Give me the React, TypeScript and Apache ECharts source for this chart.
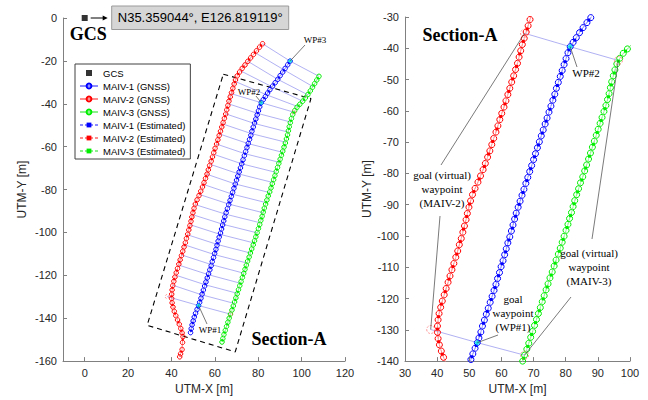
import React, { useEffect, useRef } from 'react';
import * as echarts from 'echarts';

// ---------- data (UTM metres, relative to GCS) ----------
const gcs = [[0, 0]];

const redGnss = [
  [82.0, -12.0], [80.6, -13.6], [79.2, -15.3], [77.8, -17.0], [76.5, -18.6], [75.2, -20.2], [73.9, -21.9], [72.6, -23.5],
  [71.4, -25.2], [70.3, -27.0], [69.5, -28.9], [68.9, -30.8], [68.3, -32.8], [67.7, -34.8], [67.1, -36.8], [66.5, -38.8],
  [66.0, -40.8], [65.5, -42.8], [65.0, -44.8], [64.4, -46.8], [63.8, -48.8], [63.2, -50.8], [62.6, -52.8], [62.0, -54.8],
  [61.4, -56.8], [60.8, -58.8], [60.1, -60.8], [59.5, -62.8], [58.9, -64.8], [58.3, -66.8], [57.6, -68.8], [57.0, -70.8],
  [56.4, -72.8], [55.7, -74.8], [55.0, -76.8], [54.3, -78.8], [53.5, -80.8], [52.7, -82.8], [51.8, -84.8], [51.0, -86.8],
  [50.4, -88.8], [49.9, -90.8], [49.4, -92.8], [49.0, -94.8], [48.5, -96.8], [48.0, -98.8], [47.5, -100.8], [46.9, -102.8],
  [46.4, -104.8], [45.8, -106.8], [45.2, -108.8], [44.6, -110.8], [44.0, -112.8], [43.4, -114.8], [42.8, -116.8], [42.2, -118.8],
  [41.6, -120.8], [41.1, -122.8], [40.6, -124.8], [40.3, -126.8], [40.1, -128.8], [40.1, -130.8], [40.3, -132.8], [40.7, -134.8],
  [41.3, -136.8], [42.0, -138.8], [42.8, -140.8], [43.6, -142.8], [44.3, -144.8], [44.9, -146.8], [45.3, -148.6], [45.1, -151.3],
  [44.9, -154.6], [44.2, -156.6], [43.8, -158.0],
];
const blueGnss = [
  [94.7, -20.1], [93.6, -21.8], [92.4, -23.5], [91.3, -25.2], [90.1, -26.9], [89.0, -28.6], [87.8, -30.2], [86.6, -31.8],
  [85.4, -33.4], [84.3, -35.0], [83.3, -36.6], [82.3, -38.1], [81.4, -39.5], [80.7, -41.4], [80.1, -43.3], [79.5, -45.2],
  [78.9, -47.1], [78.3, -49.0], [77.7, -50.9], [77.1, -52.8], [76.6, -54.7], [76.0, -56.6], [75.4, -58.5], [74.8, -60.4],
  [74.2, -62.3], [73.6, -64.2], [73.0, -66.1], [72.4, -68.0], [71.8, -69.9], [71.2, -71.8], [70.6, -73.7], [70.0, -75.6],
  [69.4, -77.5], [68.8, -79.4], [68.2, -81.3], [67.6, -83.2], [67.0, -85.1], [66.4, -87.0], [65.8, -88.9], [65.2, -90.8],
  [64.6, -92.7], [64.1, -94.6], [63.6, -96.5], [63.1, -98.4], [62.6, -100.3], [62.0, -102.2], [61.5, -104.1], [61.0, -106.0],
  [60.5, -107.9], [59.9, -109.8], [59.4, -111.7], [58.8, -113.6], [58.3, -115.5], [57.7, -117.4], [57.1, -119.3], [56.5, -121.2],
  [55.9, -123.1], [55.3, -125.0], [54.7, -126.9], [54.1, -128.8], [53.6, -130.7], [53.0, -132.6], [52.5, -134.1], [51.8, -135.9],
  [51.1, -137.7], [50.5, -139.5], [50.0, -141.3], [49.5, -143.1], [49.1, -144.9], [48.8, -146.7],
];
const greenGnss = [
  [108.0, -27.2], [107.0, -28.9], [106.0, -30.6], [105.0, -32.3], [104.0, -34.0], [102.9, -35.7], [101.7, -37.3], [100.5, -38.8],
  [99.2, -40.2], [97.9, -41.6], [96.8, -43.2], [95.9, -45.0], [95.3, -46.9], [94.8, -48.8], [94.3, -50.7], [93.9, -52.6],
  [93.5, -54.5], [93.0, -56.4], [92.5, -58.3], [91.9, -60.2], [91.3, -62.1], [90.7, -64.0], [90.1, -65.9], [89.5, -67.8],
  [88.9, -69.7], [88.3, -71.6], [87.7, -73.5], [87.1, -75.4], [86.5, -77.3], [85.9, -79.2], [85.3, -81.1], [84.6, -83.0],
  [84.0, -84.9], [83.4, -86.8], [82.8, -88.7], [82.3, -90.6], [81.8, -92.5], [81.2, -94.4], [80.7, -96.3], [80.1, -98.2],
  [79.5, -100.1], [78.9, -102.0], [78.3, -103.9], [77.7, -105.8], [77.0, -107.7], [76.4, -109.6], [75.8, -111.5], [75.1, -113.4],
  [74.5, -115.3], [73.9, -117.2], [73.3, -119.1], [72.7, -121.0], [72.1, -122.9], [71.5, -124.8], [70.9, -126.7], [70.3, -128.6],
  [69.7, -130.5], [69.1, -132.4], [68.5, -134.3], [67.9, -136.2], [67.2, -138.1], [66.6, -140.0], [66.0, -141.9], [65.4, -143.8],
  [64.8, -145.7], [64.2, -147.6], [63.7, -149.5], [63.3, -151.1],
];

const redEst = [
  [81.3, -12.8], [78.5, -16.2], [75.8, -19.4], [73.2, -22.7], [70.8, -26.1], [69.2, -29.8], [68.0, -33.8], [66.8, -37.8],
  [65.7, -41.8], [64.7, -45.8], [63.5, -49.8], [62.3, -53.8], [61.1, -57.8], [59.8, -61.8], [58.6, -65.8], [57.3, -69.8],
  [56.0, -73.8], [54.7, -77.8], [53.1, -81.8], [51.4, -85.8], [50.1, -89.8], [49.2, -93.8], [48.2, -97.8], [47.2, -101.8],
  [46.1, -105.8], [44.9, -109.8], [43.7, -113.8], [42.5, -117.8], [41.3, -121.8], [40.4, -125.8], [40.1, -129.8], [40.5, -133.8],
  [41.6, -137.8], [43.2, -141.8], [44.6, -145.8], [45.2, -150.0], [44.6, -155.6],
];
const blueEst = [
  [94.1, -21.0], [91.8, -24.4], [89.5, -27.8], [87.2, -31.0], [84.8, -34.2], [82.8, -37.4], [81.0, -40.5], [79.8, -44.3],
  [78.6, -48.1], [77.4, -51.9], [76.3, -55.7], [75.1, -59.5], [73.9, -63.3], [72.7, -67.1], [71.5, -70.9], [70.3, -74.7],
  [69.1, -78.5], [67.9, -82.3], [66.7, -86.1], [65.5, -89.9], [64.4, -93.7], [63.4, -97.5], [62.3, -101.3], [61.3, -105.1],
  [60.2, -108.9], [59.1, -112.7], [58.0, -116.5], [56.8, -120.3], [55.6, -124.1], [54.4, -127.9], [53.3, -131.7], [52.2, -135.0],
  [50.8, -138.6], [49.8, -142.2], [49.0, -145.8],
];
const greenEst = [
  [107.5, -28.1], [105.5, -31.5], [103.5, -34.9], [101.1, -38.1], [98.6, -40.9], [96.4, -44.1], [95.1, -47.9], [94.1, -51.7],
  [93.3, -55.5], [92.2, -59.3], [91.0, -63.1], [89.8, -66.9], [88.6, -70.7], [87.4, -74.5], [86.2, -78.3], [85.0, -82.1],
  [83.7, -85.9], [82.6, -89.7], [81.5, -93.5], [80.4, -97.3], [79.2, -101.1], [78.0, -104.9], [76.7, -108.7], [75.5, -112.5],
  [74.2, -116.3], [73.0, -120.1], [71.8, -123.9], [70.6, -127.7], [69.4, -131.5], [68.2, -135.3], [66.9, -139.1], [65.7, -142.9],
  [64.5, -146.7], [63.5, -150.3],
];

// waypoints WP#1, WP#2, WP#3
const waypoints = [[52.5, -134.1], [81.4, -39.5], [94.7, -20.1]];
// virtual goal waypoints: MAIV-2 top, MAIV-2 bottom, MAIV-3 top, MAIV-3 bottom
const goalPoints = [[67.2, -35.2], [38.0, -129.9], [96.4, -43.9], [67.2, -138.1]];

// formation links (same instant) red -> blue -> green
const linkRed = [
  [82.0, -12.0], [78.6, -16.2], [75.2, -20.2], [71.8, -24.6], [69.4, -29.6], [67.2, -35.2], [66.2, -40.0], [65.0, -44.7],
  [63.6, -49.4], [62.2, -54.1], [60.8, -58.8], [59.3, -63.5], [57.8, -68.2], [56.4, -72.9], [54.7, -77.6], [52.9, -82.3],
  [50.9, -87.0], [49.7, -91.7], [48.6, -96.4], [47.4, -101.1], [46.1, -105.8], [44.7, -110.5], [43.3, -115.2], [41.9, -119.9],
  [40.6, -124.6], [38.0, -129.9],
];
const linkBlue = [
  [94.7, -20.1], [91.9, -24.2], [89.0, -28.6], [86.4, -32.1], [83.8, -35.8], [81.4, -39.5], [79.8, -44.5], [78.3, -49.2],
  [76.8, -53.9], [75.4, -58.6], [73.9, -63.3], [72.4, -68.0], [70.9, -72.7], [69.4, -77.4], [67.9, -82.1], [66.5, -86.8],
  [65.0, -91.5], [63.7, -96.2], [62.4, -100.9], [61.1, -105.6], [59.7, -110.3], [58.4, -115.0], [57.0, -119.7], [55.5, -124.4],
  [54.0, -129.1], [52.5, -134.1],
];
const linkGreen = [
  [108.0, -27.2], [105.2, -32.0], [103.0, -35.9], [100.5, -38.8], [98.2, -41.3], [96.4, -43.9], [94.9, -48.5], [93.7, -53.2],
  [92.6, -57.9], [91.1, -62.6], [89.7, -67.3], [88.2, -72.0], [86.7, -76.7], [85.2, -81.4], [83.6, -86.1], [82.2, -90.8],
  [80.9, -95.5], [79.5, -100.2], [78.0, -104.9], [76.4, -109.6], [74.9, -114.3], [73.3, -119.0], [71.8, -123.7], [70.4, -128.4],
  [68.9, -133.1], [67.2, -138.1],
];
const sectionLinkIdx = [5, 25];

const sectionBox = [[63.9, -26.2], [104.3, -37.6], [69.4, -155.7], [28.8, -143.3], [63.9, -26.2]];

const leftXTicks = [0, 20, 40, 60, 80, 100, 120];

const legendNames = [
  'GCS', 'MAIV-1 (GNSS)', 'MAIV-2 (GNSS)', 'MAIV-3 (GNSS)',
  'MAIV-1 (Estimated)', 'MAIV-2 (Estimated)', 'MAIV-3 (Estimated)',
];

// ---------- styling ----------
const SANS = 'Arial, "Liberation Sans", sans-serif';
const SERIF = '"Liberation Serif", "Times New Roman", serif';
const AXIS_COLOR = '#808080';
const LABEL_COLOR = '#262626';

const vehicles = [
  { name: 'MAIV-1', gnss: blueGnss, est: blueEst, color: '#0000ff', light: '#8c8cff' },
  { name: 'MAIV-2', gnss: redGnss, est: redEst, color: '#ff0000', light: '#ff8c8c' },
  { name: 'MAIV-3', gnss: greenGnss, est: greenEst, color: '#00ee00', light: '#8cf08c' },
];

function axisCommon(gridIndex: number) {
  return {
    gridIndex,
    type: 'value',
    axisLine: { show: true, onZero: false, lineStyle: { color: AXIS_COLOR, width: 1 } },
    axisTick: { show: true, inside: true, length: 4, lineStyle: { color: AXIS_COLOR } },
    splitLine: { show: false },
    axisLabel: { color: LABEL_COLOR, fontSize: 11, margin: 6, fontFamily: SANS },
    nameLocation: 'middle',
    nameTextStyle: { color: LABEL_COLOR, fontSize: 12, fontFamily: SANS },
  };
}

function buildOption() {
  const series: any[] = [];
  [0, 1].forEach((gi) => {
    const idx = gi === 0 ? linkRed.map((_, i) => i) : sectionLinkIdx;
    series.push({
      type: 'lines',
      coordinateSystem: 'cartesian2d',
      xAxisIndex: gi,
      yAxisIndex: gi,
      polyline: true,
      silent: true,
      z: 1,
      lineStyle: { color: '#9d9df0', width: 0.8, opacity: 1 },
      data: idx.map((i) => ({ coords: [linkRed[i], linkBlue[i], linkGreen[i]] })),
    });
    if (gi === 0) {
      series.push({
        type: 'line',
        xAxisIndex: 0,
        yAxisIndex: 0,
        data: sectionBox,
        symbol: 'none',
        silent: true,
        z: 1,
        lineStyle: { color: '#000', width: 1.1, type: [5, 4] },
      });
      series.push({
        type: 'scatter',
        name: 'GCS',
        xAxisIndex: 0,
        yAxisIndex: 0,
        data: gcs,
        symbol: 'rect',
        symbolSize: 6,
        itemStyle: { color: '#000' },
        silent: true,
        clip: false,
      });
    }
    vehicles.forEach((v) => {
      series.push({
        type: 'line',
        name: `${v.name} (GNSS)`,
        xAxisIndex: gi,
        yAxisIndex: gi,
        data: v.gnss,
        symbol: 'circle',
        symbolSize: gi === 0 ? 4.5 : 6,
        showAllSymbol: true,
        silent: true,
        z: 3,
        itemStyle: { color: 'rgba(255,255,255,0)', borderColor: v.color, borderWidth: 1 },
        lineStyle: { color: v.light, width: 0.8 },
      });
    });
    vehicles.forEach((v) => {
      series.push({
        type: 'line',
        name: `${v.name} (Estimated)`,
        xAxisIndex: gi,
        yAxisIndex: gi,
        data: v.est,
        symbol: 'rect',
        symbolSize: gi === 0 ? 2 : 3,
        showAllSymbol: true,
        silent: true,
        z: 4,
        itemStyle: { color: v.color },
        lineStyle: { color: v.light, width: 0.8, type: [3, 2] },
      });
    });
    series.push({
      type: 'scatter',
      xAxisIndex: gi,
      yAxisIndex: gi,
      data: goalPoints,
      symbol: 'circle',
      symbolSize: gi === 0 ? 4 : 8,
      silent: true,
      z: 5,
      itemStyle: { color: 'rgba(255,255,255,0)', borderColor: '#ff5050', borderWidth: 0.8, borderType: [2, 1.5] },
    });
    series.push({
      type: 'scatter',
      xAxisIndex: gi,
      yAxisIndex: gi,
      data: waypoints,
      symbol: 'diamond',
      symbolSize: gi === 0 ? 5 : 6,
      silent: true,
      z: 6,
      itemStyle: { color: '#00e5e5' },
    });
  });

  const legendData = legendNames.map((n) =>
    n === 'GCS' ? { name: n, icon: 'path://M0,0H10V10H0Z' } : { name: n },
  );

  return {
    animation: false,
    backgroundColor: '#ffffff',
    textStyle: { fontFamily: SANS },
    grid: [
      { left: 63, top: 18, width: 282, height: 348 },
      { left: 405, top: 17, width: 225, height: 350 },
    ],
    xAxis: [
      {
        ...axisCommon(0),
        min: -10,
        max: 120,
        name: 'UTM-X [m]',
        nameGap: 18,
        axisTick: { show: true, inside: true, length: 4, lineStyle: { color: AXIS_COLOR }, customValues: leftXTicks },
        axisLabel: { color: LABEL_COLOR, fontSize: 11, margin: 6, fontFamily: SANS, customValues: leftXTicks },
      },
      { ...axisCommon(1), min: 30, max: 100, interval: 10, name: 'UTM-X [m]', nameGap: 18 },
    ],
    yAxis: [
      { ...axisCommon(0), min: -160, max: 0, interval: 20, name: 'UTM-Y [m]', nameGap: 35 },
      { ...axisCommon(1), min: -140, max: -30, interval: 10, name: 'UTM-Y [m]', nameGap: 26 },
    ],
    legend: {
      orient: 'vertical',
      left: 75,
      top: 64,
      itemWidth: 18,
      itemHeight: 6,
      itemGap: 3,
      symbolKeepAspect: true,
      padding: [4, 5, 3, 4],
      borderColor: '#404040',
      borderWidth: 1,
      backgroundColor: '#ffffff',
      selectedMode: false,
      textStyle: { fontSize: 9.5, color: '#000', fontFamily: SANS },
      data: legendData,
    },
    series,
  };
}

export default function App() {
  const ref = useRef<HTMLDivElement>(null);
  useEffect(() => {
    const chart = echarts.init(ref.current!, null, { renderer: 'svg' });
    chart.setOption(buildOption() as any);
    const p0 = (pt: number[]) => chart.convertToPixel({ xAxisIndex: 0, yAxisIndex: 0 } as any, pt) as number[];
    const p1 = (pt: number[]) => chart.convertToPixel({ xAxisIndex: 1, yAxisIndex: 1 } as any, pt) as number[];
    const leader = (a: number[], b: number[]) => ({
      type: 'line',
      silent: true,
      z: 100,
      shape: { x1: a[0], y1: a[1], x2: b[0], y2: b[1] },
      style: { stroke: '#404040', lineWidth: 0.7 },
    });
    const txt = (x: number, y: number, text: string, size: number, family: string, weight = 'normal', lh?: number) => ({
      type: 'text',
      silent: true,
      z: 100,
      x,
      y,
      style: {
        text,
        fontSize: size,
        fontFamily: family,
        fontWeight: weight,
        fill: '#000',
        align: 'center',
        verticalAlign: 'middle',
        textAlign: 'center',
        textVerticalAlign: 'middle',
        lineHeight: lh,
      },
    });
    const o = p0(gcs[0]);
    const elements: any[] = [
      // GCS coordinate box
      { type: 'rect', silent: true, z: 100, shape: { x: o[0] + 27, y: o[1] - 12, width: 177, height: 23.5 }, style: { fill: '#d6d6d6', stroke: '#9a9a9a', lineWidth: 1 } },
      txt(o[0] + 115.5, o[1] - 0.3, 'N35.359044°, E126.819119°', 13, SANS),
      { type: 'line', silent: true, z: 100, shape: { x1: o[0] + 6, y1: o[1], x2: o[0] + 19, y2: o[1] }, style: { stroke: '#000', lineWidth: 1 } },
      { type: 'polygon', silent: true, z: 100, shape: { points: [[o[0] + 23, o[1]], [o[0] + 18, o[1] - 2.5], [o[0] + 18, o[1] + 2.5]] }, style: { fill: '#000' } },
      txt(o[0] + 3.5, o[1] + 16, 'GCS', 18, SERIF, 'bold'),
      // left annotations
      txt(315, 40, 'WP#3', 9, SERIF),
      leader([305, 45], p0(waypoints[2])),
      txt(249, 92, 'WP#2', 9, SERIF),
      leader([256, 96], p0(waypoints[1])),
      txt(210, 330, 'WP#1', 9, SERIF),
      leader([207, 324], p0(waypoints[0])),
      txt(289, 339, 'Section-A', 18, SERIF, 'bold'),
      // right annotations
      txt(460, 35, 'Section-A', 18, SERIF, 'bold'),
      txt(586, 73, 'WP#2', 11, SERIF),
      leader([577, 67], p1(waypoints[1])),
      txt(442, 189, 'goal (virtual)\nwaypoint\n(MAIV-2)', 11, SERIF, 'normal', 14),
      leader([441, 165], p1(goalPoints[0])),
      leader([440, 216], p1(goalPoints[1])),
      txt(589, 267, 'goal (virtual)\nwaypoint\n(MAIV-3)', 11, SERIF, 'normal', 14),
      leader([592, 239], p1(goalPoints[2])),
      leader([571, 297], p1(goalPoints[3])),
      txt(513, 313, 'goal\nwaypoint\n(WP#1)', 11, SERIF, 'normal', 14),
      leader([498, 335], p1(waypoints[0])),
    ];
    chart.setOption({ graphic: { elements } } as any);
    return () => chart.dispose();
  }, []);
  return <div ref={ref} style={{ position: 'absolute', left: 0, top: 0, width: 648, height: 400 }} />;
}
